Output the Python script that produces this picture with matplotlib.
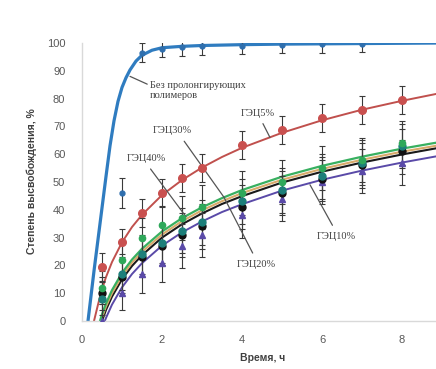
import matplotlib
matplotlib.use("Agg")
import matplotlib.pyplot as plt

# ---- data ----
x_pts = [0.5, 1, 1.5, 2, 2.5, 3, 4, 5, 6, 7, 8]

# no prolonging polymers (blue)
blue_x = [1, 1.5, 2, 2.5, 3, 4, 5, 6, 7]
blue_y = [46, 96.5, 98, 98.5, 98.8, 99, 99.3, 99.5, 99.6]
blue_err = [5.5, 3.5, 3, 3, 3, 3, 3, 3, 3]
blue_curve_x = [0.15, 0.3, 0.45, 0.6, 0.7, 0.8, 0.9, 1.0, 1.1, 1.2, 1.35, 1.5, 1.75, 2, 2.5, 3, 4, 5, 6, 7, 8, 9]
blue_curve_y = [0, 18, 35, 52, 63, 72, 79, 84, 87.5, 90.3, 93.5, 95.6, 97.4, 98.3, 98.8, 99.1, 99.4, 99.6, 99.7, 99.8, 99.9, 100]

# HEC 5% (red)
red_y = [19.5, 28.5, 38.8, 46, 51.5, 55, 63.3, 68.7, 73, 76, 79.5]
red_err = [5, 4.5, 5, 5, 5, 5, 5, 5, 5, 5, 5]

# HEC 40% (green), 30% (teal), 20% (black), 10% (purple)
green_y = [12, 22, 30, 34.5, 37, 41, 46, 50, 55, 58, 64]
teal_y = [8, 17, 24, 28, 32.5, 35.5, 43, 47, 52, 57, 63]
black_y = [10, 16, 23, 27, 31, 34, 41, 46, 51, 56, 61]
purple_y = [0, 10, 17, 21, 27, 31, 38, 44, 50, 54, 57]
cluster_err = [6, 6, 7, 7, 8, 8, 8, 8, 8, 8, 8]

# trend curves
curve_x = [0.3, 0.4, 0.45, 0.47, 0.5, 0.57, 0.6, 0.75, 1, 1.25, 1.5, 2, 2.5, 3, 3.5, 4, 5, 6, 7, 8, 9]
red_curve = [0, 5.9, 8.7, 9.8, 11.3, 14.5, 15.8, 21.2, 28.3, 33.8, 38.2, 45.3, 50.7, 55.2, 59.0, 62.3, 67.7, 72.2, 76.0, 79.2, 82.1]
green_cx = [0.45, 0.5, 0.6, 0.75, 1, 1.25, 1.5, 2, 2.5, 3, 3.5, 4, 5, 6, 7, 8, 9]
green_curve = [0, 2.4, 6.3, 11.1, 17.3, 22.1, 26.0, 32.2, 37.0, 40.9, 44.2, 47.1, 51.9, 55.8, 59.1, 62.0, 64.5]
tan_cx = [0.47, 0.5, 0.6, 0.75, 1, 1.25, 1.5, 2, 2.5, 3, 3.5, 4, 5, 6, 7, 8, 9]
tan_curve = [0, 1.3, 5.2, 10.0, 16.2, 21.0, 24.9, 31.1, 35.9, 39.8, 43.1, 46.0, 50.8, 54.7, 58.0, 60.9, 63.4]
black_cx = [0.5, 0.6, 0.75, 1, 1.25, 1.5, 2, 2.5, 3, 3.5, 4, 5, 6, 7, 8, 9]
black_curve = [0, 4.0, 8.8, 15.0, 19.8, 23.7, 30.0, 34.8, 38.7, 42.1, 44.9, 49.8, 53.7, 57.0, 59.9, 62.5]
purple_cx = [0.57, 0.6, 0.75, 1, 1.25, 1.5, 2, 2.5, 3, 3.5, 4, 5, 6, 7, 8, 9]
purple_curve = [0, 1.1, 5.9, 12.1, 16.9, 20.8, 27.1, 31.9, 35.8, 39.2, 42.0, 46.9, 50.8, 54.1, 57.0, 59.6]

x_ticks = [0, 2, 4, 6, 8]
y_ticks = [0, 10, 20, 30, 40, 50, 60, 70, 80, 90, 100]

label_blue = "Без пролонгирующих\nполимеров"
label_5 = "ГЭЦ5%"
label_10 = "ГЭЦ10%"
label_20 = "ГЭЦ20%"
label_30 = "ГЭЦ30%"
label_40 = "ГЭЦ40%"

# ---- figure ----
W, H = 436, 369
fig = plt.figure(figsize=(W / 100, H / 100), dpi=100)
ax = fig.add_axes([82 / W, 48 / H, (436 - 82) / W, 278 / H])
ax.set_xlim(0, 8.85)
ax.set_ylim(0, 100)

ecol = "#3a3a3a"
eb = dict(ecolor=ecol, elinewidth=0.8, capsize=2, capthick=0.8, linestyle="none", zorder=3)

# curves
ax.plot(curve_x, red_curve, color="#c0504d", lw=1.4, zorder=2)
ax.plot(purple_cx, purple_curve, color="#5a4aa8", lw=1.4, zorder=2)
ax.plot(black_cx, black_curve, color="#1a1a1a", lw=1.5, zorder=2)
ax.plot(tan_cx, tan_curve, color="#d8aa6a", lw=1.5, zorder=2)
ax.plot(green_cx, green_curve, color="#38b060", lw=1.6, zorder=2)
ax.plot(blue_curve_x, blue_curve_y, color="#2f7cc0", lw=2.3, zorder=2)

# points with error bars
ax.errorbar(x_pts, purple_y, yerr=cluster_err, marker="^", ms=4, mfc="#5a4aa8", mec="#5a4aa8", **eb)
ax.errorbar(x_pts, black_y, yerr=cluster_err, marker="o", ms=5, mfc="#111111", mec="#111111", **eb)
ax.errorbar(x_pts, teal_y, yerr=cluster_err, marker="o", ms=5, mfc="#1d7f7a", mec="#1d7f7a", **eb)
ax.errorbar(x_pts, green_y, yerr=cluster_err, marker="o", ms=4.5, mfc="#2ea85a", mec="#2ea85a", **eb)
ax.errorbar(x_pts, red_y, yerr=red_err, marker="o", ms=5.5, mfc="#c9504f", mec="#c9504f", **eb)
ax.errorbar(blue_x, blue_y, yerr=blue_err, marker="o", ms=3.5, mfc="#2f6fae", mec="#2f6fae", **eb)

# annotations
tfont = dict(family="Liberation Serif", size=7.5, color="#404040")
lcol = "#555555"
ax.annotate(label_blue, xy=(1.2, 88), xytext=(1.7, 83), ha="left", va="center",
            arrowprops=dict(arrowstyle="-", color=lcol, lw=0.9, shrinkA=0, shrinkB=0,
                            relpos=(0, 0.75)), **tfont)
ax.annotate(label_5, xy=(4.7, 66), xytext=(4.4, 74.5), ha="center", va="center",
            arrowprops=dict(arrowstyle="-", color=lcol, lw=0.9, shrinkA=2, shrinkB=0), **tfont)
ax.annotate(label_30, xy=(3.55, 44.5), xytext=(2.25, 68.5), ha="center", va="center",
            arrowprops=dict(arrowstyle="-", color=lcol, lw=0.9, shrinkA=3, shrinkB=0,
                            relpos=(0.7, 0)), **tfont)
ax.annotate(label_20, xy=(3.55, 44.5), xytext=(4.35, 20.5), ha="center", va="center",
            arrowprops=dict(arrowstyle="-", color=lcol, lw=0.9, shrinkA=3, shrinkB=0,
                            relpos=(0.5, 1)), **tfont)
ax.annotate(label_40, xy=(2.6, 37.5), xytext=(1.6, 58.5), ha="center", va="center",
            arrowprops=dict(arrowstyle="-", color=lcol, lw=0.9, shrinkA=3, shrinkB=0,
                            relpos=(0.5, 0)), **tfont)
ax.annotate(label_10, xy=(5.7, 49), xytext=(6.35, 30.5), ha="center", va="center",
            arrowprops=dict(arrowstyle="-", color=lcol, lw=0.9, shrinkA=3, shrinkB=0,
                            relpos=(0.5, 1)), **tfont)

# axes styling
for s in ("top", "right"):
    ax.spines[s].set_visible(False)
for s in ("left", "bottom"):
    ax.spines[s].set_color("#d9d9d9")
    ax.spines[s].set_linewidth(1.0)
ax.set_xticks(x_ticks)
ax.set_yticks(y_ticks)
ax.tick_params(length=0, labelsize=8, labelcolor="#595959")
ax.tick_params(axis="y", pad=12)
ax.tick_params(axis="x", pad=10)
for lab in ax.get_xticklabels() + ax.get_yticklabels():
    lab.set_fontfamily("Liberation Sans")

fig.text(32 / W, 1 - 181 / H, "Степень высвобождения, %", rotation=90, ha="center", va="center",
         fontsize=7.5, fontweight="bold", color="#404040", family="Liberation Sans")
fig.text(263 / W, 1 - 358 / H, "Время, ч", ha="center", va="center",
         fontsize=7.5, fontweight="bold", color="#404040", family="Liberation Sans")

fig.savefig("out.png", dpi=100)
